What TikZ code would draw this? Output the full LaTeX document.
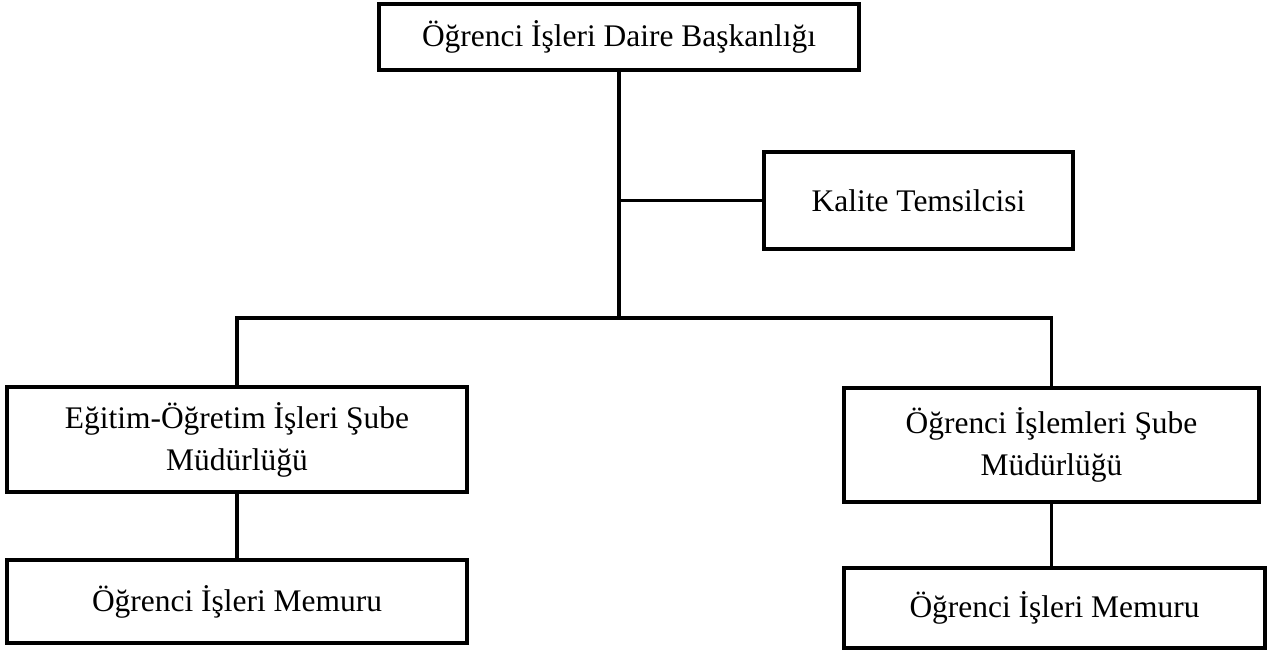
\documentclass[tikz,border=0pt]{standalone}
\usepackage{fontspec}
\setmainfont{Liberation Serif}
\usepackage{tikz}
\usetikzlibrary{positioning, calc}

\begin{document}
\begin{tikzpicture}[
    unit/.style={draw, line width=2.2pt, align=center, inner sep=0pt,
                 font=\fontsize{17.9}{23.9}\selectfont},
    link/.style={line width=2.2pt}]
    \useasboundingbox (0,0) rectangle (25.34,13.18);

    % Head of the department
    \node[unit, minimum width=9.6cm, minimum height=1.32cm] (head) at (12.38,12.44) {Öğrenci İşleri Daire Başkanlığı};
    \node[unit, minimum width=6.18cm, minimum height=1.94cm] (quality) at (18.37,9.17) {Kalite Temsilcisi};
    \coordinate (bus) at (12.38,6.82);
    \draw[link] (head.south) -- (bus);
    \draw[link] (quality.west) -- (quality.west -| head.south);

    % Branch offices
    \node[unit, minimum width=9.2cm, minimum height=2.1cm] (edu) at (4.74,4.39) {Eğitim-Öğretim İşleri Şube\\Müdürlüğü};
    \node[unit, minimum width=8.3cm, minimum height=2.28cm] (stud) at (21.03,4.28) {Öğrenci İşlemleri Şube\\Müdürlüğü};
    \draw[link] (edu.north) |- (bus) -| (stud.north);

    % Staff under each office
    \node[unit, minimum width=9.2cm, minimum height=1.66cm] (clerk1) at (4.74,1.15) {Öğrenci İşleri Memuru};
    \node[unit, minimum width=8.42cm, minimum height=1.6cm] (clerk2) at (21.09,1.02) {Öğrenci İşleri Memuru};
    \draw[link] (edu.south) -- (edu.south |- clerk1.north);
    \draw[link] (stud.south) -- (stud.south |- clerk2.north);
\end{tikzpicture}
\end{document}
